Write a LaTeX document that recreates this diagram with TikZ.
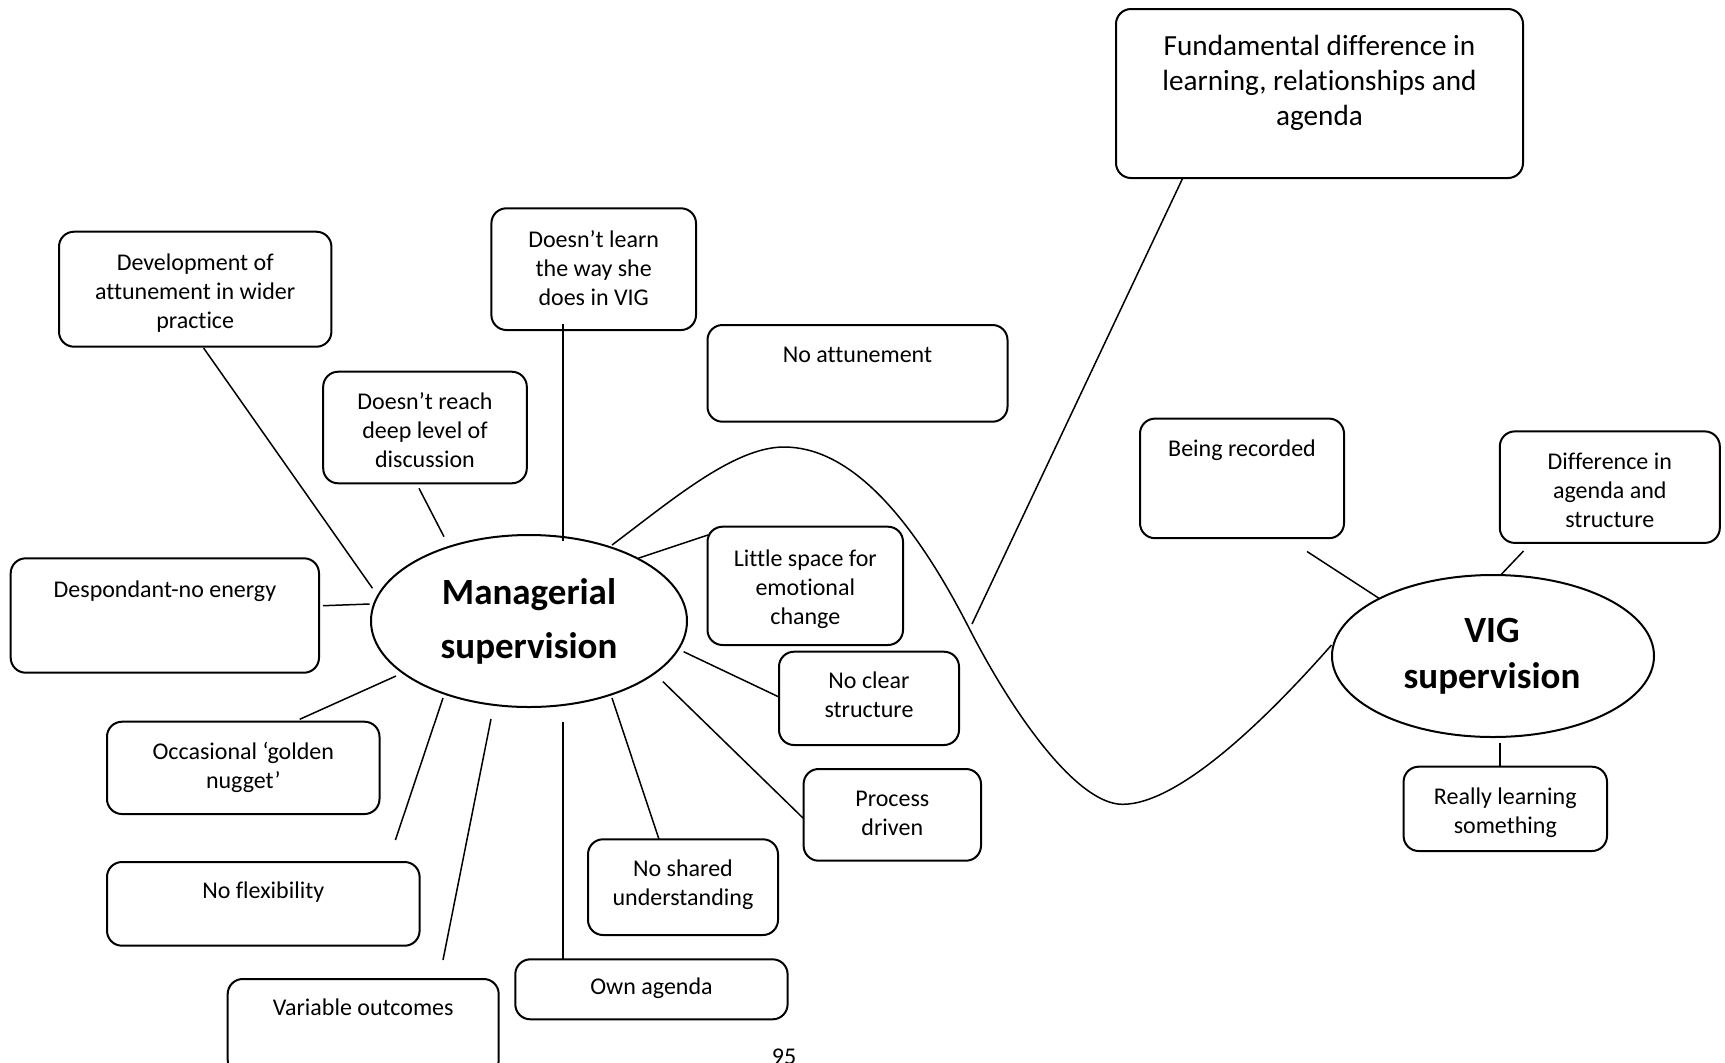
\documentclass[tikz,border=0pt]{standalone}
\usepackage{fontspec}
\setmainfont{Carlito}[Ligatures=NoCommon]
\usetikzlibrary{fit,shapes.geometric}
\begin{document}
\begin{tikzpicture}[x=0.5pt,y=-0.5pt,
  bx/.style={draw, line width=1pt, rounded corners=7.5pt, inner sep=0pt},
  tx/.style={anchor=north, inner sep=0pt, align=center, font=\fontsize{12}{14.5}\selectfont},
  bigtx/.style={anchor=north, inner sep=0pt, align=center, font=\fontsize{14.6}{17.7}\selectfont},
  hubtx/.style={anchor=north, inner sep=0pt, align=center, font=\fontsize{18.5}{27}\selectfont\bfseries},
  hub/.style={draw, ellipse, line width=1pt, inner sep=0pt},
  ln/.style={line width=0.75pt}]
\useasboundingbox (0,0) rectangle (1725,1062);
\fill[white] (0,0) rectangle (1725,1062);
\clip (0,0) rectangle (1725,1062);

% central hubs
\node[hub, minimum width=158pt, minimum height=86pt] (mgr) at (529,621) {};
\node[hubtx] (mgrt) at (529,566) {\strut Managerial\\supervision};
\node[hub, minimum width=161pt, minimum height=81pt] (vig) at (1493,656) {};
\node[hubtx, font=\fontsize{18.5}{23.3}\selectfont\bfseries] (vigt) at (1492,609) {\strut VIG\\supervision};

% theme boxes
\node[bx, fit={(1116,9) (1523,178)}] (fund) {};
\node[bigtx] (fundt) at (1319.5,29.9) {\strut Fundamental difference in\\learning, relationships and\\agenda};

\node[bx, fit={(59,231.7) (331.4,346.7)}] (dev) {};
\node[tx] (devt) at (195.2,250) {\strut Development of\\attunement in wider\\practice};

\node[bx, fit={(491.4,208.3) (696,330)}] (learn) {};
\node[tx] (learnt) at (593.7,226.7) {\strut Doesn’t learn\\the way she\\does in VIG};

\node[bx, fit={(707.5,325) (1007.5,421.7)}] (attun) {};
\node[tx] (attunt) at (857.5,341.7) {\strut No attunement};

\node[bx, fit={(323.2,371.7) (526.8,483.3)}] (reach) {};
\node[tx] (reacht) at (425,388.4) {\strut Doesn’t reach\\deep level of\\discussion};

\node[bx, fit={(10.7,558.3) (319,672.7)}] (desp) {};
\node[tx] (despt) at (164.9,576.7) {\strut Despondant-no energy};

\node[bx, fit={(707.5,526.7) (903,645)}] (little) {};
\node[tx] (littlet) at (805.3,546) {\strut Little space for\\emotional\\change};

\node[bx, fit={(779,651.7) (959,745)}] (clear) {};
\node[tx] (cleart) at (869,667.7) {\strut No clear\\structure};

\node[bx, fit={(803.6,769) (981,860.7)}] (proc) {};
\node[tx] (proct) at (892.3,786) {\strut Process\\driven};

\node[bx, fit={(107,721.7) (379.5,814)}] (occ) {};
\node[tx] (occt) at (243.3,738.4) {\strut Occasional ‘golden\\nugget’};

\node[bx, fit={(107,862) (419.6,945.7)}] (flex) {};
\node[tx] (flext) at (263.3,877.4) {\strut No flexibility};

\node[bx, fit={(227.7,979) (498.7,1075)}] (var) {};
\node[tx] (vart) at (363.2,995) {\strut Variable outcomes};

\node[bx, fit={(515.3,959.3) (787.6,1019.3)}] (own) {};
\node[tx] (ownt) at (651.5,974) {\strut Own agenda};

\node[bx, fit={(588,839.3) (778,935)}] (shared) {};
\node[tx] (sharedt) at (683,856) {\strut No shared\\understanding};

\node[bx, fit={(1140,418.6) (1344,538.2)}] (rec) {};
\node[tx] (rect) at (1242,436) {\strut Being recorded};

\node[bx, fit={(1499.8,431.4) (1719.8,542.9)}] (diff) {};
\node[tx] (difft) at (1609.8,448.5) {\strut Difference in\\agenda and\\structure};

\node[bx, fit={(1403.6,766.7) (1607,851)}] (real) {};
\node[tx] (realt) at (1505.3,783.4) {\strut Really learning\\something};

% connector ends
\coordinate (devA) at (203.6,348);     \coordinate (devB) at (372.5,588.3);
\coordinate (reachA) at (419,488.3);   \coordinate (reachB) at (444,536.7);
\coordinate (learnA) at (563.2,324);   \coordinate (learnB) at (563.2,540.7);
\coordinate (despA) at (323,605.7);    \coordinate (despB) at (369.6,604);
\coordinate (littleA) at (638,558.3);  \coordinate (littleB) at (708,535);
\coordinate (clearA) at (683.6,651.7); \coordinate (clearB) at (779,697);
\coordinate (procA) at (663,681.7);    \coordinate (procB) at (803,818);
\coordinate (sharedA) at (612,698);    \coordinate (sharedB) at (659,839.3);
\coordinate (ownA) at (563,721.7);     \coordinate (ownB) at (563,959.3);
\coordinate (varA) at (491,719);       \coordinate (varB) at (443,960);
\coordinate (flexA) at (443,698);      \coordinate (flexB) at (395.4,840);
\coordinate (occA) at (396,676);       \coordinate (occB) at (299.7,719.3);
\coordinate (fundA) at (1182.5,178.6); \coordinate (fundB) at (972,624);
\coordinate (recA) at (1307,551.5);    \coordinate (recB) at (1379,598.3);
\coordinate (diffA) at (1523.5,551);   \coordinate (diffB) at (1500.7,575);
\coordinate (realA) at (1499.8,743.3); \coordinate (realB) at (1499.8,766.7);

\foreach \k in {dev,reach,learn,desp,little,clear,proc,shared,own,var,flex,occ,fund,rec,diff,real}
  \draw[ln] (\k A) -- (\k B);

% wave joining the two kinds of supervision
\coordinate (waveA) at (612,545);
\coordinate (wavePeak) at (784,447);
\coordinate (waveMid) at (969,628);
\coordinate (waveLow) at (1122.5,804.3);
\coordinate (waveB) at (1331.5,645);
\draw[ln] (waveA) .. controls (672,500) and (734,447) .. (wavePeak)
  .. controls (845.7,447) and (907.3,507.3) .. (waveMid)
  .. controls (1014,716) and (1077.5,804.3) .. (waveLow)
  .. controls (1180,804.3) and (1270,715) .. (waveB);

% page number
\node[anchor=base, inner sep=0pt, font=\fontsize{12}{14}\selectfont] (pgno) at (784,1064) {95};
\end{tikzpicture}
\end{document}
